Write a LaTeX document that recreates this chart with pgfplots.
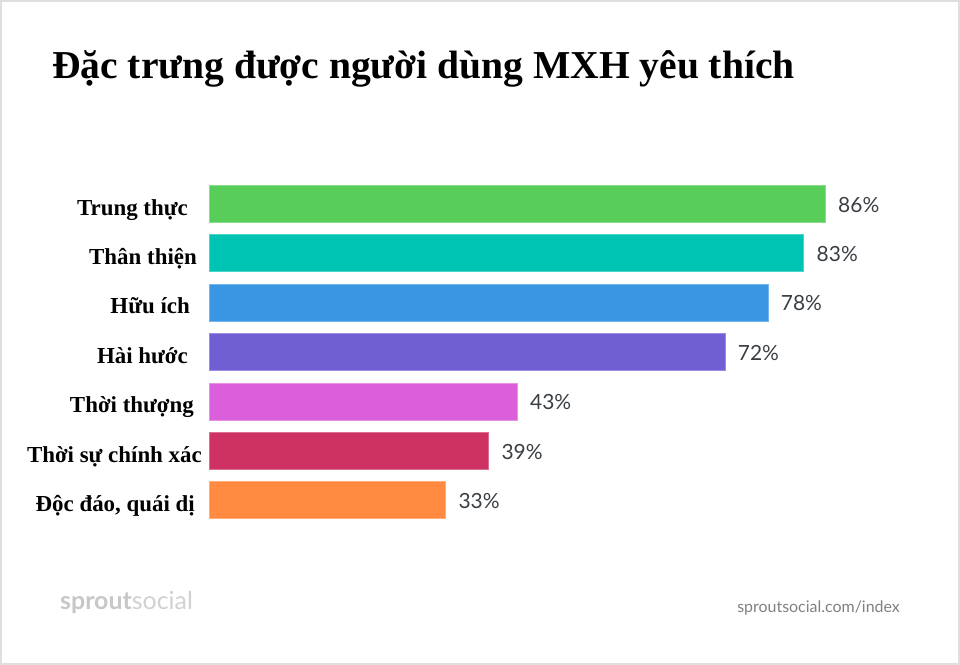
\documentclass[border=0pt]{standalone}
\usepackage{fontspec}
\setmainfont{Liberation Serif}
\newfontfamily\lato{Lato}
\usepackage{pgfplots}
\pgfplotsset{compat=1.18}

\definecolor{cgreen}{RGB}{89,205,90}
\definecolor{cteal}{RGB}{0,196,179}
\definecolor{cblue}{RGB}{56,150,227}
\definecolor{cpurple}{RGB}{112,94,211}
\definecolor{cpink}{RGB}{219,95,219}
\definecolor{ccrimson}{RGB}{205,50,98}
\definecolor{corange}{RGB}{255,138,64}
\definecolor{valtext}{RGB}{58,63,68}
\definecolor{frame}{RGB}{222,224,224}

\newcommand{\gap}[1]{\rule{#1}{0pt}}

\begin{document}
\begin{tikzpicture}[x=1bp,y=1bp]
\path[use as bounding box] (0,0) rectangle (960,665);
\fill[white] (0,0) rectangle (960,665);
\draw[frame, line width=2bp] (1,1) rectangle (959,664);

\node[anchor=base west, inner sep=0pt, font=\fontsize{39.7}{42}\selectfont\bfseries]
  at (52,586) {Đặc trưng được người dùng MXH yêu thích};

\begin{axis}[
  at={(209bp,140.2bp)}, anchor=south west,
  scale only axis,
  width=716.3bp, height=345.8bp,
  xbar, bar shift=0pt, bar width=0.75,
  xmin=0, xmax=100,
  ymin=-0.5, ymax=6.5,
  y dir=reverse,
  hide x axis,
  y axis line style={draw=none},
  ytick style={draw=none},
  major tick length=0pt,
  ytick={0,1,2,3,4,5,6},
  yticklabels={Trung thực\gap{14bp},Thân thiện\gap{5bp},Hữu ích\gap{12bp},
    Hài hước\gap{14bp},Thời thượng\gap{8bp},Thời sự chính xác,
    {Độc đáo, quái dị\gap{7bp}}},
  yticklabel style={anchor=base east, inner sep=0pt, xshift=-7bp, yshift=-11.5bp,
    font=\fontsize{23}{26}\selectfont\bfseries, text=black},
  /pgf/number format/assume math mode=true,
  nodes near coords={\pgfmathprintnumber{\pgfplotspointmeta}\%},
  point meta=x,
  every node near coord/.append style={anchor=base west, inner sep=0pt,
    xshift=13bp, yshift=-8.5bp, font=\lato\fontsize{21}{24}\selectfont, text=valtext},
]
\addplot[fill=cgreen, draw=cgreen!70!white] coordinates {(86,0)};
\addplot[fill=cteal, draw=cteal!70!white] coordinates {(83,1)};
\addplot[fill=cblue, draw=cblue!70!white] coordinates {(78,2)};
\addplot[fill=cpurple, draw=cpurple!70!white] coordinates {(72,3)};
\addplot[fill=cpink, draw=cpink!70!white] coordinates {(43,4)};
\addplot[fill=ccrimson, draw=ccrimson!70!white] coordinates {(39,5)};
\addplot[fill=corange, draw=corange!70!white] coordinates {(33,6)};
\end{axis}

\node[anchor=base west, inner sep=0pt, font=\lato\fontsize{25}{27}\selectfont]
  at (60,55) {\textcolor{black!22}{\bfseries sprout}\textcolor{black!18}{social}};
\node[anchor=base east, inner sep=0pt, font=\lato\fontsize{16}{18}\selectfont, text=black!50]
  at (900,52) {sproutsocial.com/index};
\end{tikzpicture}
\end{document}
